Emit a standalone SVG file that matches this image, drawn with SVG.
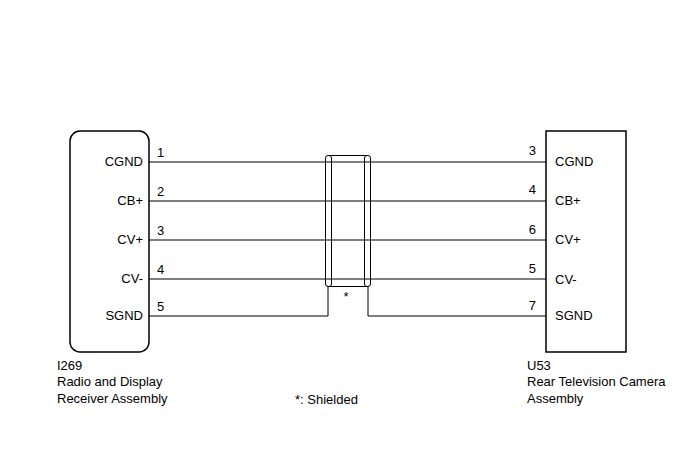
<svg xmlns="http://www.w3.org/2000/svg" width="688" height="463" viewBox="0 0 688 463">
<style>
text{font-family:"Liberation Sans",Arial,sans-serif;font-size:13px;fill:#000}
.w{stroke:#000;stroke-width:1;fill:none}
.box{fill:#fff;stroke:#000;stroke-width:1.5}
.r{text-anchor:end}
</style>
<rect width="688" height="463" fill="#fff"/>
<g id="connectors">
<line class="w" x1="149" y1="162" x2="546" y2="162"/>
<line class="w" x1="149" y1="201" x2="546" y2="201"/>
<line class="w" x1="149" y1="240" x2="546" y2="240"/>
<line class="w" x1="149" y1="279" x2="546" y2="279"/>
<polyline class="w" points="149,316 328,316 328,286"/>
<polyline class="w" points="546,316 368,316 368,286"/>
</g>
<g id="shield">
<rect class="w" x="325.5" y="155.5" width="6" height="131" rx="2.5"/>
<rect class="w" x="364.5" y="155.5" width="6" height="131" rx="2.5"/>
<line class="w" x1="328" y1="155.5" x2="368" y2="155.5"/>
<line class="w" x1="328" y1="286.5" x2="368" y2="286.5"/>
<text x="346" y="301" text-anchor="middle">*</text>
</g>
<g id="I269">
<rect class="box" x="70" y="131" width="79" height="221" rx="10"/>
<text class="r" x="143" y="166">CGND</text>
<text class="r" x="143" y="205">CB+</text>
<text class="r" x="143" y="244">CV+</text>
<text class="r" x="143" y="283">CV-</text>
<text class="r" x="143" y="320">SGND</text>
<text x="157" y="157">1</text>
<text x="157" y="196">2</text>
<text x="157" y="235">3</text>
<text x="157" y="274">4</text>
<text x="157" y="311">5</text>
<text x="57" y="370">I269</text>
<text x="57" y="386">Radio and Display</text>
<text x="57" y="403">Receiver Assembly</text>
</g>
<g id="U53">
<rect class="box" x="546" y="131" width="80" height="221" stroke-width="2"/>
<text x="555" y="166">CGND</text>
<text x="555" y="205">CB+</text>
<text x="555" y="244">CV+</text>
<text x="555" y="284">CV-</text>
<text x="555" y="320">SGND</text>
<text class="r" x="536" y="155">3</text>
<text class="r" x="536" y="194">4</text>
<text class="r" x="536" y="234">6</text>
<text class="r" x="536" y="273">5</text>
<text class="r" x="536" y="310">7</text>
<text x="527" y="370">U53</text>
<text x="527" y="386">Rear Television Camera</text>
<text x="527" y="403">Assembly</text>
</g>
<text x="295" y="404">*: Shielded</text>
</svg>
